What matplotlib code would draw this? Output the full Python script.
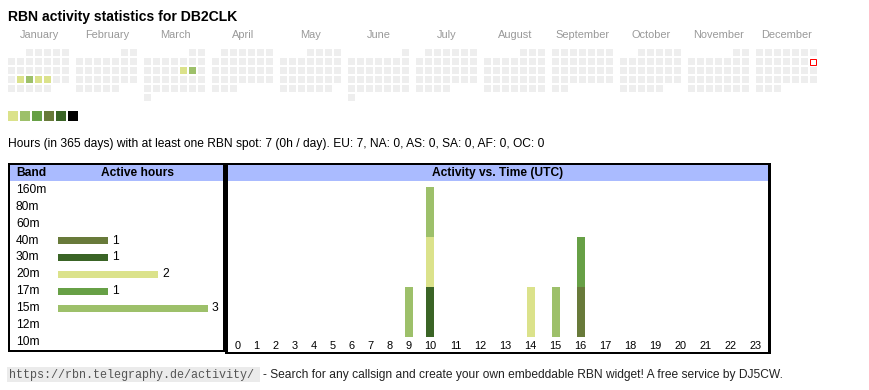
import datetime as dt
import matplotlib
matplotlib.use("Agg")
import matplotlib.pyplot as plt
from matplotlib.patches import Rectangle
import numpy as np

plt.rcParams["font.family"] = ["Liberation Sans", "DejaVu Sans"]

# ---------------- data ----------------
YEAR = 2025
month_names = ["January", "February", "March", "April", "May", "June", "July",
               "August", "September", "October", "November", "December"]
active_days = ["2025-01-21", "2025-01-22", "2025-01-23", "2025-01-24",
               "2025-03-14", "2025-03-15"]
active_levels = [1, 2, 1, 1, 1, 2]
today = "2025-12-14"
level_colors = ["#dbe28b", "#9dc06a", "#67a046", "#687a3a", "#3a6426", "#000000"]

bands = ["160m", "80m", "60m", "40m", "30m", "20m", "17m", "15m", "12m", "10m"]
band_hours = [0, 0, 0, 1, 1, 2, 1, 3, 0, 0]
band_colors = ["#cccccc", "#cccccc", "#cccccc", "#687a3a", "#3a6426",
               "#dbe28b", "#67a046", "#9dc06a", "#cccccc", "#cccccc"]

hour_labels = [str(h) for h in range(24)]
#            0  1  2  3  4  5  6  7  8  9 10 11 12 13 14 15 16 17 18 19 20 21 22 23
act_40m = [0, 0, 0, 0, 0, 0, 0, 0, 0, 0, 0, 0, 0, 0, 0, 0, 1, 0, 0, 0, 0, 0, 0, 0]
act_30m = [0, 0, 0, 0, 0, 0, 0, 0, 0, 0, 1, 0, 0, 0, 0, 0, 0, 0, 0, 0, 0, 0, 0, 0]
act_20m = [0, 0, 0, 0, 0, 0, 0, 0, 0, 0, 1, 0, 0, 0, 1, 0, 0, 0, 0, 0, 0, 0, 0, 0]
act_17m = [0, 0, 0, 0, 0, 0, 0, 0, 0, 0, 0, 0, 0, 0, 0, 0, 1, 0, 0, 0, 0, 0, 0, 0]
act_15m = [0, 0, 0, 0, 0, 0, 0, 0, 0, 1, 1, 0, 0, 0, 0, 1, 0, 0, 0, 0, 0, 0, 0, 0]
stack_series = [act_40m, act_30m, act_20m, act_17m, act_15m]
stack_bands = ["40m", "30m", "20m", "17m", "15m"]

title = "RBN activity statistics for DB2CLK"
stats = ("Hours (in 365 days) with at least one RBN spot: 7 (0h / day). "
         "EU: 7, NA: 0, AS: 0, SA: 0, AF: 0, OC: 0")
url = "https://rbn.telegraphy.de/activity/"
footer = "- Search for any callsign and create your own embeddable RBN widget! A free service by DJ5CW."

# ---------------- layout helpers ----------------
W, H = 870, 390
PX = 0.72  # points per pixel at 100 dpi
fig = plt.figure(figsize=(W / 100, H / 100), dpi=100)
fig.patch.set_facecolor("white")


def rect_px(x0, y0, x1, y1):
    return [x0 / W, 1 - y1 / H, (x1 - x0) / W, (y1 - y0) / H]


def clean(ax):
    ax.set_axis_off()
    ax.patch.set_alpha(0)


renderer = fig.canvas.get_renderer()


def fit_text(ax, x, y, s, width_px, size_px, **kw):
    t = ax.text(x, y, s, fontsize=size_px * PX, **kw)
    w = t.get_window_extent(renderer).width
    t.set_fontsize(size_px * PX * width_px / w)
    return t


deco = fig.add_axes([0, 0, 1, 1])
deco.set_xlim(0, W)
deco.set_ylim(H, 0)
clean(deco)

# title
fit_text(deco, 8, 21, title, 229, 14, fontweight="bold", ha="left", va="baseline", color="black")

# legend squares
for i, c in enumerate(level_colors):
    deco.add_patch(Rectangle((8 + 12 * i, 111), 10, 10, facecolor=c, edgecolor="none", antialiased=False))

# stats line
fit_text(deco, 8, 146.5, stats, 535, 13, ha="left", va="baseline", color="black")

# boxes
HEAD = "#aabbff"
deco.add_patch(Rectangle((8, 163), 217, 189, facecolor="black", edgecolor="none", antialiased=False))
deco.add_patch(Rectangle((10, 165), 213, 185, facecolor="white", edgecolor="none", antialiased=False))
deco.add_patch(Rectangle((10, 165), 213, 16, facecolor=HEAD, edgecolor="none", antialiased=False))
deco.add_patch(Rectangle((225, 163), 546, 191, facecolor="black", edgecolor="none", antialiased=False))
deco.add_patch(Rectangle((228, 165), 540, 187, facecolor="white", edgecolor="none", antialiased=False))
deco.add_patch(Rectangle((228, 165), 540, 16, facecolor=HEAD, edgecolor="none", antialiased=False))
deco.text(16, 173, "Band", fontsize=12 * PX, fontweight="bold", ha="left", va="center")
deco.text(138, 173, "Active hours", fontsize=12 * PX, fontweight="bold", ha="center", va="center")
deco.text(498, 173, "Activity vs. Time (UTC)", fontsize=12 * PX, fontweight="bold", ha="center", va="center")

# footer
deco.add_patch(Rectangle((7, 367), 253, 15, facecolor="#ebebeb", edgecolor="none", antialiased=False))
fit_text(deco, 9, 378, url, 248, 12, family="Liberation Mono", ha="left", va="baseline", color="#555555")
fit_text(deco, 263, 378, footer, 520, 12, family=["Liberation Sans Narrow", "Liberation Sans"],
         ha="left", va="baseline", color="#222222")

# ---------------- calendar ----------------
cal = fig.add_axes(rect_px(8, 49, 820, 103))
cal.set_xlim(0, 812)
cal.set_ylim(54, 0)
clean(cal)
level_of = {dt.date.fromisoformat(d): lv for d, lv in zip(active_days, active_levels)}
today_d = dt.date.fromisoformat(today)
MONTH_STEP, CELL_STEP, CELL = 68, 9, 7
for m in range(1, 13):
    first = dt.date(YEAR, m, 1)
    nxt = dt.date(YEAR + (m == 12), m % 12 + 1, 1)
    ndays = (nxt - first).days
    for day in range(1, ndays + 1):
        d = dt.date(YEAR, m, day)
        wk = (day - 1 + first.weekday()) // 7
        x = (m - 1) * MONTH_STEP + d.weekday() * CELL_STEP
        y = wk * CELL_STEP
        if d == today_d:
            cal.add_patch(Rectangle((x + 0.5, y + 0.5), CELL - 1, CELL - 1, facecolor="white",
                                    edgecolor="red", linewidth=1 * PX))
        else:
            c = level_colors[level_of[d] - 1] if d in level_of else "#eeeeee"
            cal.add_patch(Rectangle((x, y), CELL, CELL, facecolor=c, edgecolor="none", antialiased=False))
    cal.text((m - 1) * MONTH_STEP + 31, -11, month_names[m - 1], ha="center", va="baseline",
             fontsize=11 * PX, color="#999999")

# ---------------- band table bars ----------------
ROW = 16.95
bax = fig.add_axes(rect_px(10, 181, 223, 350))
bax.set_xlim((10 - 58) / 50, (223 - 58) / 50)
bax.set_ylim((350 - 189.7) / ROW, (181 - 189.7) / ROW)
clean(bax)
ypos = np.arange(len(bands))
bax.barh(ypos, band_hours, height=7 / ROW, color=band_colors, linewidth=0)
for i, (b, h) in enumerate(zip(bands, band_hours)):
    bax.text((16 - 58) / 50, i, b, ha="left", va="center", fontsize=12 * PX, color="black")
    if h > 0:
        bax.annotate(str(h), (h, i), xytext=(4 * PX, 0), textcoords="offset points",
                     ha="left", va="center", fontsize=12 * PX, color="black")

# ---------------- activity vs time ----------------
aax = fig.add_axes(rect_px(228, 181, 768, 352))
aax.set_xlim(0, 540)
aax.set_ylim(-0.3, 3.12)
clean(aax)
col_w = np.array([13 + 6 * len(s) for s in hour_labels], dtype=float)
centers = np.cumsum(col_w) - col_w / 2
bottom = np.zeros(24)
color_of = dict(zip(bands, band_colors))
for name, series in zip(stack_bands, stack_series):
    vals = np.array(series, dtype=float)
    aax.bar(centers, vals, width=8, bottom=bottom, color=color_of[name], linewidth=0)
    bottom += vals
for c, s in zip(centers, hour_labels):
    aax.text(c, -0.18, s, ha="center", va="center", fontsize=11 * PX, color="black")

fig.savefig("out.png", dpi=100, facecolor="white")
